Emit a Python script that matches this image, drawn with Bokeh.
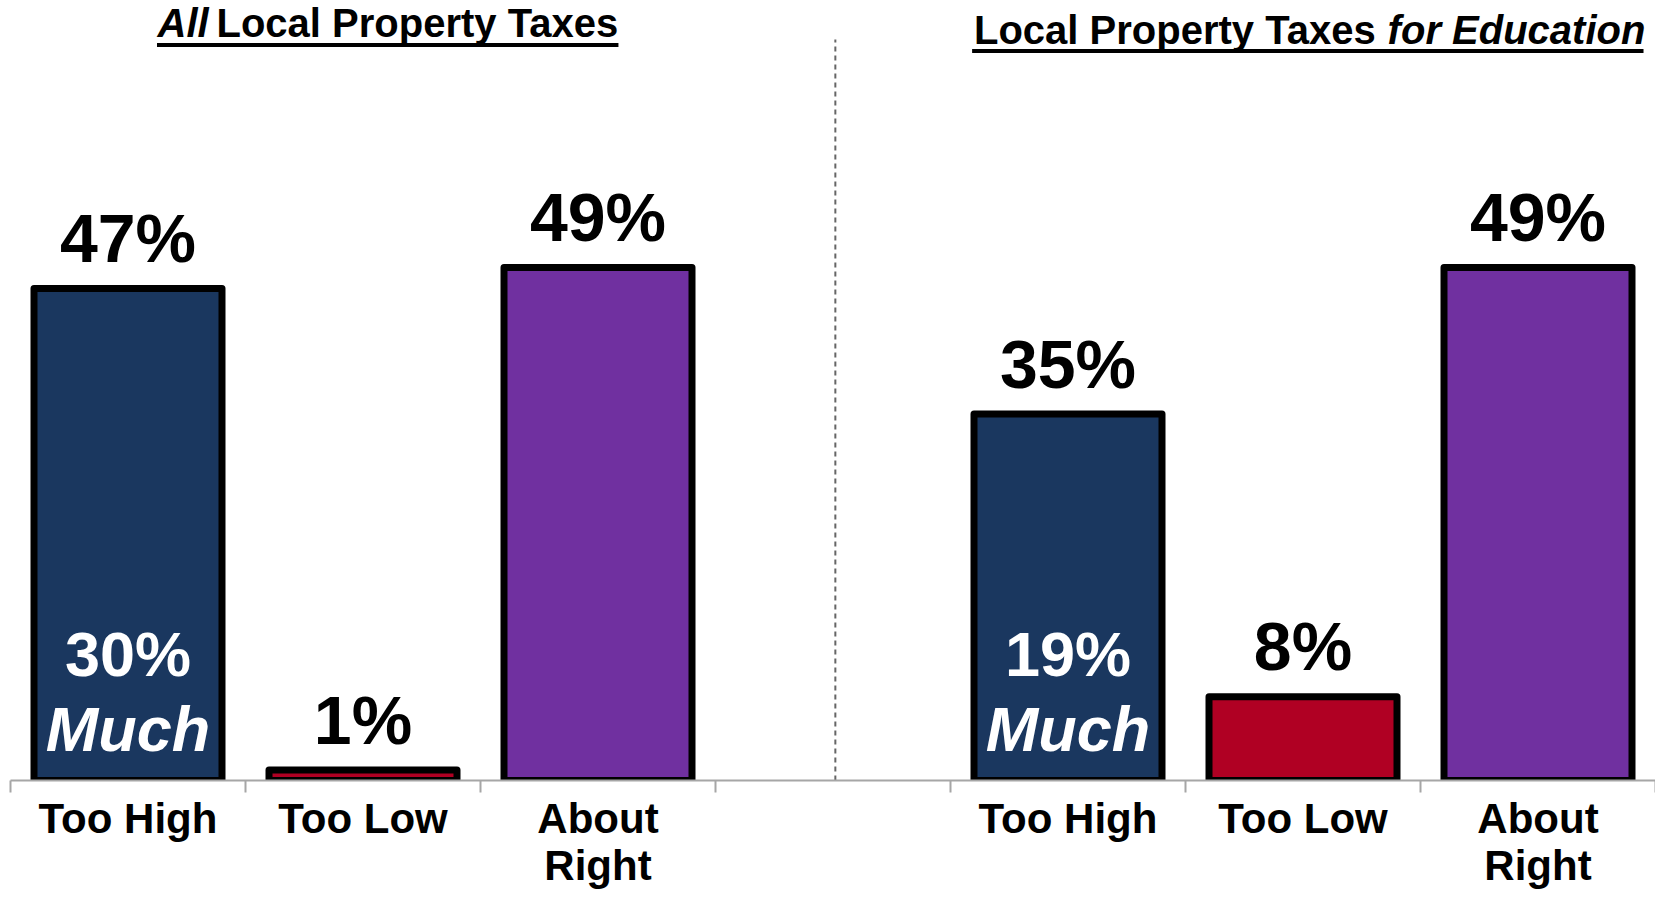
from bokeh.plotting import figure
from bokeh.models import Range1d, FixedTicker, ColumnDataSource
from bokeh.core.properties import value
from bokeh.embed import file_html
from bokeh.resources import INLINE

# ---------------- data ----------------
categories = ["Too High", "Too Low", "About Right"]
tick_labels = ["Too High", "Too Low", "About\nRight"]
all_taxes = [47, 1, 49]          # All Local Property Taxes
edu_taxes = [35, 8, 49]          # Local Property Taxes for Education
much_all = 30                    # "Much" too high, all taxes
much_edu = 19                    # "Much" too high, education
bar_colors = ["#1A375F", "#B00023", "#7030A0"]

FONT = value("Liberation Sans")

# slots: left panel 0..2, empty slot 3, right panel 4..6
left_x = [i + 0.5 for i in range(3)]
right_x = [i + 4.5 for i in range(3)]
xs = left_x + right_x
vals = all_taxes + edu_taxes
cols = bar_colors + bar_colors
labels = [f"{v}%" for v in vals]

W, H = 1655, 891
p = figure(width=W, height=H, output_backend="svg", toolbar_location=None,
           x_range=Range1d(0, 7), y_range=Range1d(0, 74.5),
           y_axis_location=None, min_border=0, min_border_left=10)
p.outline_line_color = None
p.xgrid.visible = False
p.ygrid.visible = False
p.background_fill_color = "white"

src = ColumnDataSource(dict(x=xs, top=vals, color=cols, label=labels,
                            ly=[v + 4.8 for v in vals]))
p.vbar(x="x", top="top", bottom=0, width=0.80, source=src,
       fill_color="color", line_color="black", line_width=7, line_join="round")

p.text(x="x", y="ly", text="label", source=src, text_font=FONT,
       text_font_style="bold", text_font_size="68px", text_color="black",
       text_align="center", text_baseline="alphabetic")

# "Much" labels inside Too High bars
inner = ColumnDataSource(dict(x=[left_x[0], right_x[0]],
                              pct=[f"{much_all}%", f"{much_edu}%"],
                              much=["Much", "Much"]))
p.text(x="x", y=12.06, text="pct", source=inner, text_font=FONT,
       text_font_style="bold", text_font_size="63px", text_color="white",
       text_align="center", text_baseline="alphabetic")
p.text(x="x", y=4.93, text="much", source=inner, text_font=FONT,
       text_font_style="bold italic", text_font_size="63px", text_color="white",
       text_align="center", text_baseline="alphabetic")

# separator
p.segment(x0=[3.51], y0=[0], x1=[3.51], y1=[70.77], line_color="#666666",
          line_width=2, line_dash="5 4")

# panel titles
p.text(x=[0.6255], y=[72.36], text=["All"], text_font=FONT,
       text_font_style="bold italic", text_font_size="40px",
       text_align="left", text_baseline="alphabetic", text_color="black")
p.text(x=[0.8766], y=[72.36], text=["Local Property Taxes"], text_font=FONT,
       text_font_style="bold", text_font_size="40px",
       text_align="left", text_baseline="alphabetic", text_color="black")
p.segment(x0=[0.6234], y0=[70.26], x1=[2.587], y1=[70.26], line_color="black", line_width=4)

p.text(x=[4.100], y=[71.66], text=["Local Property Taxes"], text_font=FONT,
       text_font_style="bold", text_font_size="40px",
       text_align="left", text_baseline="alphabetic", text_color="black")
p.text(x=[6.957], y=[71.66], text=["for Education"], text_font=FONT,
       text_font_style="bold italic", text_font_size="40px",
       text_align="right", text_baseline="alphabetic", text_color="black")
p.segment(x0=[4.092], y0=[69.68], x1=[6.949], y1=[69.68], line_color="black", line_width=4)

# x axis: ticks at slot boundaries (minor), labels at slot centres (major)
ax = p.xaxis[0]
ax.ticker = FixedTicker(ticks=xs, minor_ticks=[float(i) for i in range(8)])
ax.major_label_overrides = {x: t for x, t in zip(xs, tick_labels + tick_labels)}
ax.major_tick_line_color = None
ax.major_tick_out = 0
ax.major_tick_in = 0
ax.minor_tick_line_color = "#A6A6A6"
ax.minor_tick_line_width = 2
ax.minor_tick_out = 12
ax.minor_tick_in = 0
ax.axis_line_color = "#A6A6A6"
ax.axis_line_width = 2
ax.major_label_text_font = "Liberation Sans"
ax.major_label_text_font_style = "bold"
ax.major_label_text_font_size = "42px"
ax.major_label_text_color = "black"
ax.major_label_text_line_height = 1.0
ax.major_label_standoff = 2

open("out.html", "w").write(file_html(p, INLINE))
